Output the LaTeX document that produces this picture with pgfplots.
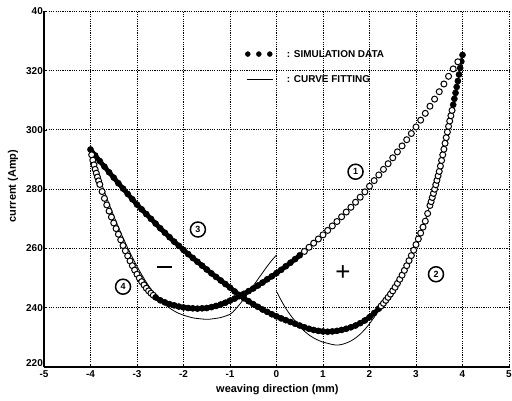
\documentclass[border=0pt]{standalone}
\usepackage{pgfplots}
\pgfplotsset{compat=1.18}
\usepackage{fontspec}
\setmainfont{Liberation Sans}
\begin{document}
\begin{tikzpicture}
\begin{axis}[
 name=ax,
 width=465bp, height=355.6bp, scale only axis,
 xmin=-5, xmax=5, ymin=220, ymax=340,
 xtick={-5,-4,...,5}, xticklabels={-5,-4,-3,-2,-1,0,1,2,3,4,5},
 ytick={240,260,...,340}, yticklabels={240,260,280,300,320,40},
 extra y ticks={220}, extra y tick labels={220},
 extra y tick style={yticklabel style={yshift=3.5bp}},
 axis x line*=bottom, axis y line*=left,
 axis line style={line width=1.4bp},
 grid=major, major grid style={black, line width=1bp, dash pattern=on 1.2bp off 1.1bp},
 tick align=inside, major tick length=3bp, tick style={black, line width=0.8bp},
 ticklabel style={font=\bfseries\fontsize{10}{12}\selectfont},
 yticklabel style={inner xsep=1bp},
 xticklabel style={inner ysep=3bp},
 xlabel={weaving direction (mm)}, ylabel={current (Amp)},
 label style={font=\bfseries\fontsize{11}{13}\selectfont},
 xlabel style={at={(axis description cs:0.502,-0.0647)}, anchor=center},
 ylabel style={at={(axis description cs:-0.0667,0.509)}, anchor=center},
]
% curve fitting (thin lines)
\addplot[black, line width=0.8bp, smooth] coordinates {
(-4.0,293.4) (-3.9,288.5) (-3.8,283.6) (-3.7,279.2) (-3.6,275.0) (-3.5,271.0)
(-3.4,267.2) (-3.3,263.6) (-3.2,260.2) (-3.1,257.0) (-3.0,254.0) (-2.9,251.2)
(-2.8,248.6) (-2.7,246.3) (-2.6,244.3) (-2.5,242.6) (-2.4,241.1) (-2.3,239.9)
(-2.2,238.9) (-2.1,238.1) (-2.0,237.5) (-1.8,236.6) (-1.6,236.2) (-1.5,236.1)
(-1.4,236.2) (-1.2,236.7) (-1.0,237.8) (-0.9,239.2) (-0.8,241.0) (-0.7,243.0)
(-0.6,245.2) (-0.5,247.4) (-0.4,249.6) (-0.3,251.8) (-0.2,254.0) (-0.1,256.0) (0.0,257.8)};
\addplot[black, line width=0.8bp, smooth] coordinates {
(0.0,245.5) (0.1,242.5) (0.2,239.8) (0.3,237.5) (0.4,235.5) (0.5,233.6)
(0.6,232.1) (0.7,230.8) (0.8,229.8) (0.9,229.0) (1.0,228.4) (1.1,228.0)
(1.2,227.6) (1.3,227.4) (1.4,227.6) (1.5,228.1) (1.6,228.8) (1.7,229.8)
(1.8,231.1) (1.9,232.7) (2.0,234.6) (2.1,236.8) (2.2,239.4) (2.3,241.8)
(2.4,243.7) (2.5,245.9) (2.6,248.4) (2.7,251.2) (2.8,254.4) (2.9,257.8)
(3.0,261.5) (3.1,265.4) (3.2,269.4) (3.3,274.7) (3.4,280.2) (3.5,286.2)
(3.6,293.7) (3.7,301.4) (3.8,308.7) (3.9,316.7) (4.0,325.3)};
% simulation data, curve A (3 -> bottom -> 2)
\addplot[black, line width=4.6bp, mark=*, mark size=3bp, mark options={line width=0.6bp, fill=black}] coordinates {
(-4.0,293.4) (-3.9,291.4) (-3.8,289.5) (-3.7,287.6) (-3.6,285.7) (-3.5,283.9)
(-3.4,282.0) (-3.3,280.2) (-3.2,278.4) (-3.1,276.6) (-3.0,274.8) (-2.9,273.2)
(-2.8,271.6) (-2.7,270.0) (-2.6,268.4) (-2.5,266.8) (-2.4,265.3) (-2.3,263.8)
(-2.2,262.3) (-2.1,260.9) (-2.0,259.5) (-1.9,258.1) (-1.8,256.8) (-1.7,255.5)
(-1.6,254.2) (-1.5,252.9) (-1.4,251.6) (-1.3,250.4) (-1.2,249.2) (-1.1,248.0)
(-1.0,246.8) (-0.9,245.5) (-0.8,244.3) (-0.7,243.2) (-0.6,242.2) (-0.5,241.2)
(-0.4,240.3) (-0.3,239.4) (-0.2,238.6) (-0.1,237.8) (0.0,237.1) (0.1,236.4)
(0.2,235.8) (0.3,235.2) (0.4,234.6) (0.5,234.0) (0.6,233.4) (0.7,232.9)
(0.8,232.5) (0.9,232.2) (1.0,232.0) (1.1,231.9) (1.2,232.0) (1.3,232.2)
(1.4,232.5) (1.5,232.9) (1.6,233.4) (1.7,234.0) (1.8,234.8) (1.9,235.7)
(2.0,236.8) (2.1,238.2) (2.2,239.7)};
\addplot[only marks, mark=*, mark size=3bp, mark options={black, line width=1bp, fill=white}] coordinates {
(2.25,240.6) (2.3,241.5) (2.35,242.5) (2.4,243.5) (2.45,244.6) (2.5,245.7)
(2.55,246.9) (2.6,248.2) (2.65,249.6) (2.7,251.0) (2.75,252.6) (2.8,254.2)
(2.85,255.9) (2.9,257.6) (2.95,259.4) (3.0,261.3) (3.05,263.2) (3.1,265.2)
(3.15,267.2) (3.2,269.2) (3.25,271.8) (3.3,274.5) (3.325,275.8) (3.35,277.2)
(3.375,278.6) (3.4,280.0) (3.425,281.5) (3.45,283.0) (3.475,284.5) (3.5,286.0)
(3.525,287.8) (3.55,289.7) (3.575,291.6) (3.6,293.5) (3.625,295.5) (3.65,297.4)
(3.675,299.3) (3.7,301.2) (3.725,303.0) (3.75,304.8) (3.775,306.6)};
\addplot[only marks, mark=*, mark size=3bp, mark options={black, line width=0.6bp, fill=black}] coordinates {
(3.8,308.5) (3.825,310.5) (3.85,312.5) (3.875,314.5) (3.9,316.5) (3.925,318.7)
(3.95,320.9) (3.975,323.1) (4.0,325.3)};
% simulation data, curve B (4 -> bottom -> 1)
\addplot[only marks, mark=*, mark size=3bp, mark options={black, line width=1bp, fill=white}] coordinates {
(-3.975,291.6) (-3.95,289.8) (-3.925,288.2) (-3.9,286.7) (-3.875,285.4)
(-3.85,284.1) (-3.825,282.8) (-3.8,281.6) (-3.75,279.2) (-3.7,276.9) (-3.65,274.7)
(-3.6,272.6) (-3.55,270.6) (-3.5,268.6) (-3.45,266.7) (-3.4,264.8) (-3.35,262.9)
(-3.3,261.0) (-3.25,259.2) (-3.2,257.5) (-3.15,255.8) (-3.1,254.2) (-3.05,252.7)
(-3.0,251.3) (-2.95,250.0) (-2.9,248.8) (-2.85,247.7) (-2.8,246.6) (-2.75,245.7)
(-2.7,244.9) (-2.65,244.2)};
\addplot[black, line width=4.6bp, mark=*, mark size=3bp, mark options={line width=0.6bp, fill=black}] coordinates {
(-2.6,243.5) (-2.5,242.5) (-2.4,241.8) (-2.3,241.2) (-2.2,240.8) (-2.1,240.4)
(-2.0,240.1) (-1.9,239.9) (-1.8,239.8) (-1.7,239.7) (-1.6,239.8) (-1.5,239.9)
(-1.4,240.2) (-1.3,240.6) (-1.2,241.1) (-1.1,241.7) (-1.0,242.4) (-0.9,243.1)
(-0.8,243.9) (-0.7,244.7) (-0.6,245.6) (-0.5,246.5) (-0.4,247.5) (-0.3,248.5)
(-0.2,249.6) (-0.1,250.6) (0.0,251.7) (0.1,252.8) (0.2,254.0) (0.3,255.2)
(0.4,256.4) (0.5,257.7)};
\addplot[only marks, mark=*, mark size=3bp, mark options={black, line width=1bp, fill=white}] coordinates {
(0.6,259.0) (0.7,260.4) (0.8,261.8) (0.9,263.2) (1.0,264.6) (1.1,266.1)
(1.2,267.6) (1.3,269.1) (1.4,270.7) (1.5,272.3) (1.6,273.9) (1.7,275.6)
(1.8,277.3) (1.9,279.1) (2.0,281.0) (2.1,282.9) (2.2,284.8) (2.3,286.7)
(2.4,288.6) (2.5,290.6) (2.6,292.6) (2.7,294.6) (2.8,296.7) (2.9,298.8)
(3.0,301.0) (3.1,303.3) (3.2,305.6) (3.3,308.0) (3.4,310.4) (3.5,312.9)
(3.6,315.5) (3.7,318.1) (3.8,320.6) (3.9,323.0)};
% legend
\addplot[only marks, mark=*, mark size=2.5bp, black] coordinates {(-0.617,325.6) (-0.38,325.6) (-0.144,325.6)};
\addplot[black, line width=1.2bp] coordinates {(-0.64,317.1) (-0.08,317.1)};
\node[anchor=west, inner sep=0pt, font=\bfseries\fontsize{10}{11}\selectfont] at (axis cs:0.22,325.6) {: SIMULATION DATA};
\node[anchor=west, inner sep=0pt, font=\bfseries\fontsize{10}{11}\selectfont] at (axis cs:0.22,317.1) {: CURVE FITTING};
% annotations
\tikzset{cnum/.style={draw, circle, line width=1.5bp, inner sep=0.5bp, minimum size=15bp, font=\bfseries\fontsize{9}{9}\selectfont}}
\node[cnum] at (axis cs:1.70,285.9) {1};
\node[cnum] at (axis cs:3.43,251.3) {2};
\node[cnum] at (axis cs:-1.69,266.4) {3};
\node[cnum] at (axis cs:-3.30,247.1) {4};
\node[inner sep=0pt] at (axis cs:-2.40,253.8) {\rule{15bp}{2.6bp}};
\node[font=\fontsize{26}{26}\selectfont, inner sep=0pt] at (axis cs:1.43,251.6) {+};
\end{axis}
\pgfresetboundingbox
\path[use as bounding box] ([shift={(-44bp,-33bp)}]ax.south west) rectangle ([shift={(3bp,11.4bp)}]ax.north east);
\end{tikzpicture}
\end{document}
